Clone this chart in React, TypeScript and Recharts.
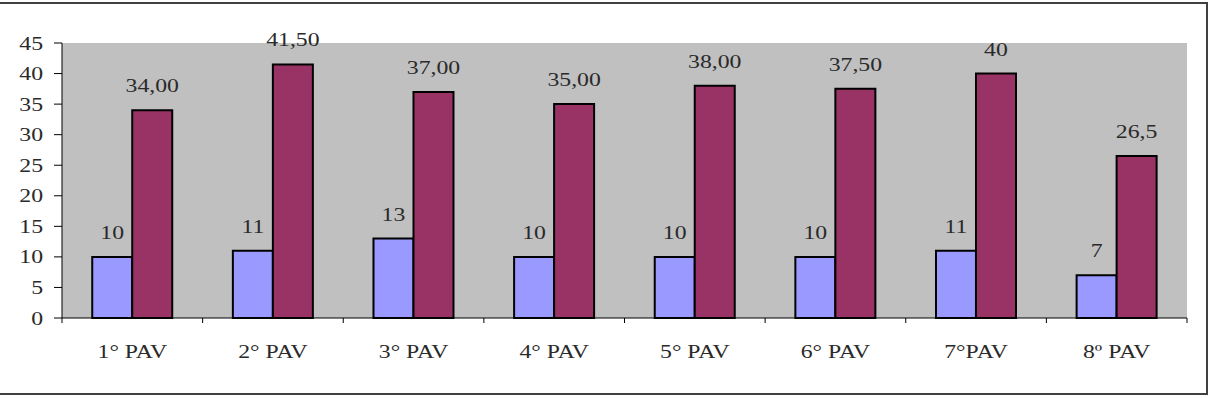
import React from 'react';
import { BarChart, Bar, XAxis, YAxis, CartesianGrid, LabelList } from 'recharts';

const categories = ['1° PAV', '2° PAV', '3° PAV', '4° PAV', '5° PAV', '6° PAV', '7°PAV', '8º PAV'];
const seriesA = [10, 11, 13, 10, 10, 10, 11, 7];
const seriesB = [34, 41.5, 37, 35, 38, 37.5, 40, 26.5];
const labelsA = ['10', '11', '13', '10', '10', '10', '11', '7'];
const labelsB = ['34,00', '41,50', '37,00', '35,00', '38,00', '37,50', '40', '26,5'];
const yTicks = [0, 5, 10, 15, 20, 25, 30, 35, 40, 45];

const data = categories.map((name, i) => ({
  name,
  a: seriesA[i],
  b: seriesB[i],
  la: labelsA[i],
  lb: labelsB[i],
}));

const FONT = "'Liberation Serif', 'Times New Roman', serif";
const TEXT_COLOR = '#2a2a2a';
const FONT_SIZE = 19;
const STRETCH = 1.25;

const StretchText = ({ x, y, anchor, children }: any) => (
  <text
    transform={`translate(${x},${y}) scale(${STRETCH},1)`}
    textAnchor={anchor}
    fontFamily={FONT}
    fontSize={FONT_SIZE}
    fill={TEXT_COLOR}
  >
    {children}
  </text>
);

const YTick = (props: any) => {
  const { x, y, payload } = props;
  return (
    <StretchText x={x} y={y + 6.5} anchor="end">
      {payload.value}
    </StretchText>
  );
};

const XTick = (props: any) => {
  const { x, y, payload, index, visibleTicksCount } = props;
  const half = payload.offset ?? 0;
  const last = index === visibleTicksCount - 1;
  return (
    <g>
      <line x1={x - half} x2={x - half} y1={y} y2={y + 5} stroke="#000" strokeWidth={1} />
      {last && <line x1={x + half} x2={x + half} y1={y} y2={y + 5} stroke="#000" strokeWidth={1} />}
      <StretchText x={x} y={y + 40} anchor="middle">
        {payload.value}
      </StretchText>
    </g>
  );
};

const BarLabel = (props: any) => {
  const { x, y, width, value } = props;
  return (
    <StretchText x={x + width / 2} y={y - 18} anchor="middle">
      {value}
    </StretchText>
  );
};

export default function App() {
  return (
    <div style={{ position: 'absolute', left: 0, top: 0, width: 1212, height: 398, background: '#fff', overflow: 'hidden' }}>
      <div
        style={{
          position: 'absolute',
          left: -4,
          top: 2,
          width: 1212,
          height: 393,
          boxSizing: 'border-box',
          border: '2px solid #404040',
        }}
      />
      <div style={{ position: 'absolute', left: 0, top: 0 }}>
        <BarChart
          width={1212}
          height={398}
          data={data}
          margin={{ top: 43, right: 25, bottom: 0, left: 0 }}
          barCategoryGap="21.5%"
          barGap={0}
        >
          <CartesianGrid fill="#C0C0C0" fillOpacity={1} horizontal={false} vertical={false} stroke="none" />
          <XAxis
            dataKey="name"
            height={80}
            axisLine={{ stroke: '#000', strokeWidth: 1 }}
            tickLine={false}
            tickSize={0}
            tickMargin={0}
            interval={0}
            tick={<XTick />}
          />
          <YAxis
            width={62}
            domain={[0, 45]}
            ticks={yTicks}
            interval={0}
            axisLine={{ stroke: '#000', strokeWidth: 1 }}
            tickLine={{ stroke: '#000', strokeWidth: 1 }}
            tickSize={8}
            tickMargin={11}
            tick={<YTick />}
          />
          <Bar dataKey="a" fill="#9999FF" stroke="#000" strokeWidth={2} isAnimationActive={false}>
            <LabelList dataKey="la" content={<BarLabel />} />
          </Bar>
          <Bar dataKey="b" fill="#993366" stroke="#000" strokeWidth={2} isAnimationActive={false}>
            <LabelList dataKey="lb" content={<BarLabel />} />
          </Bar>
        </BarChart>
      </div>
    </div>
  );
}
